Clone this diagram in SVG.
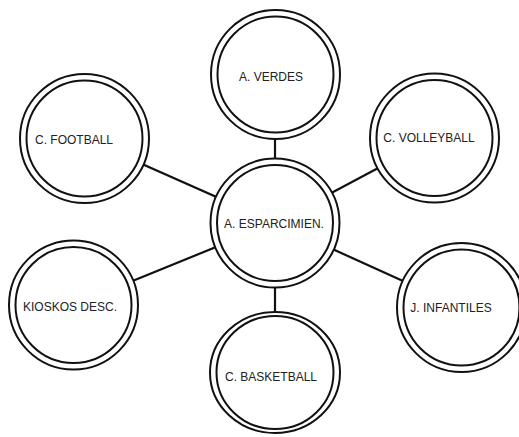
<svg xmlns="http://www.w3.org/2000/svg" width="519" height="437" viewBox="0 0 519 437">
<style>
.o{fill:#fff;stroke:#111;stroke-width:2}
.i{fill:none;stroke:#111;stroke-width:2}
.c{stroke:#111;stroke-width:2.2}
text{font-family:"Liberation Sans",Arial,sans-serif;font-size:12px;fill:#222;text-anchor:middle;dominant-baseline:central}
</style>
<rect width="519" height="437" fill="#fff"/>
<g id="connectors">
<line class="c" x1="275" y1="223" x2="275" y2="74.5"/>
<line class="c" x1="275" y1="223" x2="84.5" y2="138.5"/>
<line class="c" x1="275" y1="223" x2="434.5" y2="138"/>
<line class="c" x1="275" y1="223" x2="73.5" y2="305"/>
<line class="c" x1="275" y1="223" x2="461.5" y2="307.5"/>
<line class="c" x1="275" y1="223" x2="275" y2="372"/>
</g>
<g id="center"><circle class="o" cx="275" cy="223" r="64.5"/><circle class="i" cx="275" cy="223" r="58"/><text x="274" y="224">A. ESPARCIMIEN.</text></g>
<g id="verdes"><circle class="o" cx="275.5" cy="74.5" r="64.5"/><circle class="i" cx="275.5" cy="74.5" r="58"/><text x="271" y="77">A. VERDES</text></g>
<g id="football"><circle class="o" cx="84.5" cy="138.5" r="64.5"/><circle class="i" cx="84.5" cy="138.5" r="58"/><text x="74" y="140">C. FOOTBALL</text></g>
<g id="volleyball"><circle class="o" cx="434.5" cy="138" r="64.5"/><circle class="i" cx="434.5" cy="138" r="58"/><text x="429" y="138">C. VOLLEYBALL</text></g>
<g id="kioskos"><circle class="o" cx="73.5" cy="305" r="64.5"/><circle class="i" cx="73.5" cy="305" r="58"/><text x="70" y="307">KIOSKOS DESC.</text></g>
<g id="infantiles"><circle class="o" cx="461.5" cy="307.5" r="64.5"/><circle class="i" cx="461.5" cy="307.5" r="58"/><text x="451" y="308">J. INFANTILES</text></g>
<g id="basketball"><ellipse class="o" cx="275" cy="372.5" rx="65" ry="60.5"/><ellipse class="i" cx="275" cy="372.5" rx="58.5" ry="56.5"/><text x="271" y="377">C. BASKETBALL</text></g>
</svg>
